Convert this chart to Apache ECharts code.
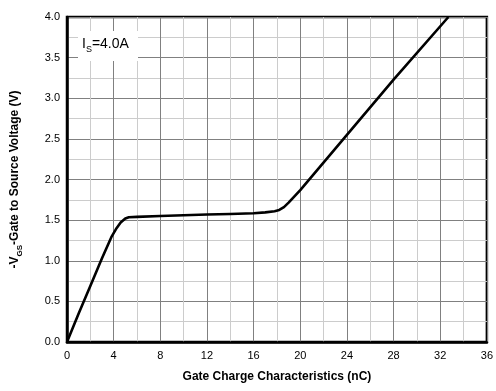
<!DOCTYPE html>
<html>
<head>
<meta charset="utf-8">
<script src="https://cdn.jsdelivr.net/npm/echarts@6/dist/echarts.min.js"></script>
<style>
  html, body { margin: 0; padding: 0; background: #fff; }
  #chart { width: 496px; height: 391px; }
</style>
</head>
<body>
<div id="chart"></div>
<script>
// Gate charge curve: total gate charge (nC) vs -VGS (V), IS = 4.0 A
const gateCharge = [0, 1, 2, 3, 3.8, 4.2, 4.6, 5.0, 5.3, 6, 8, 10, 12, 14, 16, 17, 17.8, 18.2, 18.6, 19.0, 20, 24, 28, 32.7];
const vgs        = [0, 0.35, 0.69, 1.03, 1.29, 1.39, 1.47, 1.52, 1.535, 1.54, 1.55, 1.56, 1.57, 1.575, 1.585, 1.595, 1.61, 1.625, 1.66, 1.715, 1.87, 2.55, 3.23, 4.0];
const xTicks = [0, 4, 8, 12, 16, 20, 24, 28, 32, 36];
const yTicks = [0, 0.5, 1, 1.5, 2, 2.5, 3, 3.5, 4];

const chart = echarts.init(document.getElementById('chart'), null, { renderer: 'canvas' });
const fontFamily = 'Liberation Sans, Arial, sans-serif';

chart.setOption({
  animation: false,
  backgroundColor: '#fff',
  grid: {
    left: 67, right: 4, top: 17, bottom: 49,
    show: true, borderColor: '#000', borderWidth: 2.5, backgroundColor: 'transparent'
  },
  xAxis: {
    type: 'value',
    min: xTicks[0], max: xTicks[xTicks.length - 1], interval: 4,
    name: 'Gate Charge Characteristics (nC)',
    nameLocation: 'middle', nameGap: 29,
    nameTextStyle: { fontFamily, fontSize: 12, fontWeight: 'bold', color: '#000' },
    axisLine: { show: true, lineStyle: { color: '#000', width: 2.5 } },
    axisTick: { show: false },
    axisLabel: { fontFamily, fontSize: 11, color: '#000', margin: 8, showMaxLabel: true },
    splitLine: { show: true, lineStyle: { color: '#808080', width: 1 } },
    minorTick: { show: false, splitNumber: 2 },
    minorSplitLine: { show: true, lineStyle: { color: '#cccccc', width: 1 } }
  },
  yAxis: {
    type: 'value',
    min: yTicks[0], max: yTicks[yTicks.length - 1], interval: 0.5,
    name: '{n|-V}{s|GS}{n|-Gate to Source Voltage (V)}',
    nameLocation: 'middle', nameGap: 43, nameRotate: 90,
    nameTextStyle: {
      color: '#000',
      rich: {
        n: { fontFamily, fontSize: 12, fontWeight: 'bold', color: '#000' },
        s: { fontFamily, fontSize: 8, fontWeight: 'bold', color: '#000', padding: [11, 0, 0, 0] }
      }
    },
    axisLine: { show: true, lineStyle: { color: '#000', width: 2.5 } },
    axisTick: { show: false },
    axisLabel: {
      fontFamily, fontSize: 11, color: '#000', margin: 7,
      formatter: v => v.toFixed(1)
    },
    splitLine: { show: true, lineStyle: { color: '#808080', width: 1 } },
    minorTick: { show: false, splitNumber: 2 },
    minorSplitLine: { show: true, lineStyle: { color: '#cccccc', width: 1 } }
  },
  graphic: [
    {
      type: 'rect', z: 100,
      shape: { x: 78, y: 31, width: 60, height: 30 },
      style: { fill: '#fff' }
    },
    {
      type: 'text', z: 101,
      left: 82, top: 37,
      style: {
        text: '{n|I}{s|S}{n|=4.0A}',
        rich: {
          n: { fontFamily, fontSize: 14, color: '#000' },
          s: { fontFamily, fontSize: 9, color: '#000', padding: [12, 0, 0, 0] }
        }
      }
    }
  ],
  series: [{
    type: 'line',
    data: gateCharge.map((q, i) => [q, vgs[i]]),
    showSymbol: false,
    smooth: false,
    lineStyle: { color: '#000', width: 2.6, join: 'round' },
    clip: true
  }]
});
</script>
</body>
</html>
